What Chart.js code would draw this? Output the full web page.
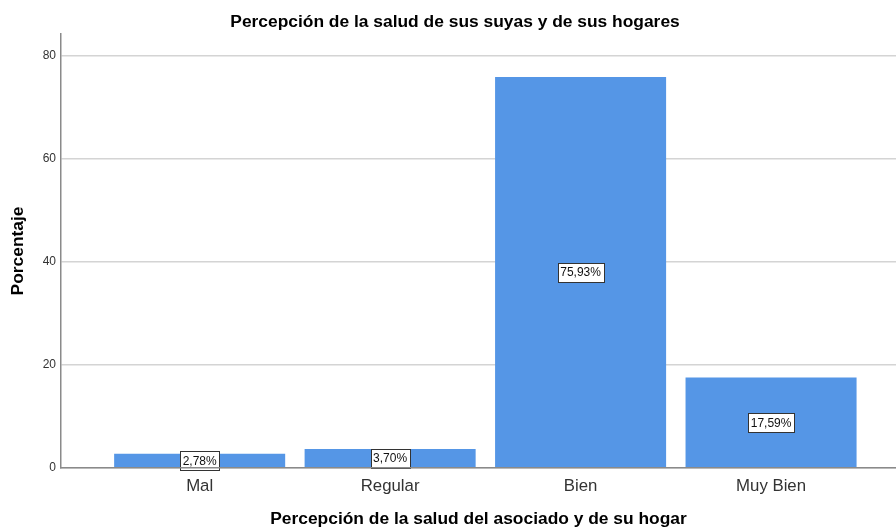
<!DOCTYPE html>
<html>
<head>
<meta charset="utf-8">
<script src="https://cdn.jsdelivr.net/npm/chart.js@4/dist/chart.umd.min.js"></script>
<style>
  html, body { margin: 0; padding: 0; background: #fff; }
</style>
</head>
<body>
<canvas id="grafico" width="896" height="530"></canvas>
<script>
// datos
const categorias = ['Mal', 'Regular', 'Bien', 'Muy Bien'];
const porcentajes = [2.78, 3.70, 75.93, 17.59];
const ticksY = [0, 20, 40, 60, 80];

const FUENTE = '"Liberation Sans", Arial, sans-serif';
Chart.defaults.font.family = FUENTE;

// etiquetas con recuadro blanco en el centro de cada barra
const etiquetas = {
    id: 'etiquetas',
    afterDatasetsDraw(chart) {
        const ctx = chart.ctx;
        const meta = chart.getDatasetMeta(0);
        ctx.save();
        ctx.font = '12px ' + FUENTE;
        ctx.textAlign = 'center';
        ctx.textBaseline = 'middle';
        meta.data.forEach((bar, i) => {
            const txt = porcentajes[i].toFixed(2).replace('.', ',') + '%';
            const cy = (bar.y + bar.base) / 2;
            const w = Math.round(ctx.measureText(txt).width + 5);
            const h = 19;
            const x0 = Math.round(bar.x - w / 2) + 0.5;
            const y0 = Math.round(cy - h / 2) + 0.5;
            ctx.fillStyle = '#fff';
            ctx.fillRect(x0, y0, w, h);
            ctx.strokeStyle = '#333';
            ctx.lineWidth = 1;
            ctx.strokeRect(x0, y0, w, h);
            ctx.fillStyle = '#111';
            ctx.fillText(txt, bar.x, cy + 1);
        });
        ctx.restore();
    }
};

new Chart(document.getElementById('grafico'), {
    type: 'bar',
    data: {
        datasets: [{
            data: porcentajes.map((v, i) => ({ x: i, y: v })),
            backgroundColor: '#5596E6',
            borderWidth: 0,
            categoryPercentage: 1,
            barPercentage: 0.898
        }]
    },
    options: {
        responsive: false,
        animation: false,
        layout: { padding: { left: 14, right: 0, top: 0, bottom: 0 } },
        plugins: {
            legend: { display: false },
            tooltip: { enabled: false },
            title: {
                display: true,
                text: 'Percepción de la salud de sus suyas y de sus hogares',
                color: '#000',
                font: { size: 17.4, weight: 'bold' },
                padding: { top: 11.6, bottom: 1.5 }
            }
        },
        scales: {
            x: {
                type: 'linear',
                offset: false,
                min: -0.728,
                max: 3.656,
                afterBuildTicks: ax => { ax.ticks = categorias.map((c, i) => ({ value: i })); },
                ticks: {
                    callback: v => categorias[v],
                    color: '#333',
                    font: { size: 16.8 },
                    padding: 8,
                    autoSkip: false,
                    maxRotation: 0
                },
                grid: { display: false, drawTicks: false, offset: false },
                border: { display: true, color: '#8a8a8a', width: 1.5, z: 1 },
                title: {
                    display: true,
                    text: 'Percepción de la salud del asociado y de su hogar',
                    color: '#000',
                    font: { size: 17.4, weight: 'bold' },
                    padding: { top: 0, bottom: 0 }
                },
                afterFit: s => { s.height = 62; }
            },
            y: {
                min: 0,
                max: 84.3,
                afterBuildTicks: ax => { ax.ticks = ticksY.map(v => ({ value: v })); },
                ticks: { color: '#333', font: { size: 12 }, padding: 5 },
                grid: { color: '#d4d4d4', lineWidth: 1.5, drawTicks: false },
                border: { color: '#8a8a8a', width: 1.5, z: 1 },
                title: {
                    display: true,
                    text: 'Porcentaje',
                    color: '#000',
                    font: { size: 17.4, weight: 'bold' },
                    padding: { top: -6.4, bottom: 0 }
                },
                afterFit: s => { s.width = 47; }
            }
        }
    },
    plugins: [etiquetas]
});
</script>
</body>
</html>
